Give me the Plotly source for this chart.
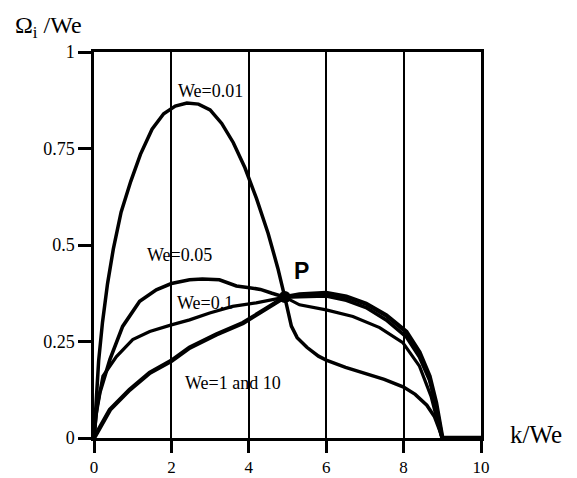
import plotly.graph_objects as go

# Growth-rate curves Omega_i/We versus k/We for several Weber numbers
k_001 = [0, 0.05, 0.12, 0.22, 0.35, 0.5, 0.7, 0.95, 1.2, 1.5, 1.8, 2.1, 2.4, 2.7, 3.0, 3.3, 3.6,
         3.9, 4.2, 4.5, 4.75, 4.93, 5.0, 5.1, 5.25, 5.5, 5.8, 6.0, 6.5, 7.0, 7.5, 8.0, 8.3, 8.6,
         8.8, 8.95, 9.0, 10]
w_001 = [0, 0.1, 0.2, 0.3, 0.4, 0.49, 0.585, 0.665, 0.735, 0.80, 0.84, 0.86, 0.868, 0.865, 0.85,
         0.815, 0.765, 0.70, 0.62, 0.53, 0.44, 0.365, 0.33, 0.29, 0.26, 0.235, 0.212, 0.202, 0.183,
         0.168, 0.152, 0.132, 0.113, 0.085, 0.055, 0.015, 0, 0]

k_005 = [0, 0.05, 0.15, 0.41, 0.74, 1.18, 1.61, 2.0, 2.47, 2.8, 3.24, 3.68, 3.97, 4.3, 4.6, 4.93,
         5.31, 6.0, 6.52, 7.03, 7.55, 8.07, 8.41, 8.67, 8.84, 8.97, 9.0, 10]
w_005 = [0, 0.06, 0.117, 0.203, 0.289, 0.354, 0.384, 0.40, 0.41, 0.412, 0.41, 0.394, 0.39, 0.385,
         0.375, 0.365, 0.366, 0.368, 0.357, 0.338, 0.306, 0.262, 0.21, 0.15, 0.085, 0.013, 0, 0]

k_01 = [0, 0.08, 0.23, 0.58, 1.0, 1.44, 2.0, 2.47, 2.99, 3.58, 4.19, 4.6, 4.93, 5.31, 6.0, 6.69,
        7.38, 7.98, 8.41, 8.71, 8.85, 8.96, 9.0, 10]
w_01 = [0, 0.08, 0.16, 0.211, 0.255, 0.276, 0.293, 0.306, 0.324, 0.341, 0.35, 0.358, 0.365, 0.345,
        0.332, 0.315, 0.286, 0.247, 0.186, 0.108, 0.05, 0.01, 0, 0]

k_1 = [0, 0.41, 0.92, 1.44, 2.0, 2.47, 3.16, 3.85, 4.45, 4.93, 5.31, 6.0, 6.52, 7.03, 7.55, 8.07,
       8.41, 8.67, 8.84, 8.97, 9.0, 10]
w_1 = [0, 0.073, 0.125, 0.169, 0.2, 0.234, 0.268, 0.298, 0.335, 0.365, 0.372, 0.376, 0.366, 0.348,
       0.318, 0.275, 0.222, 0.16, 0.091, 0.013, 0, 0]

p_k = [4.93]
p_w = [0.365]

x_ticks = [0, 2, 4, 6, 8, 10]
y_ticks = [0, 0.25, 0.5, 0.75, 1]
y_tick_text = ["0", "0.25", "0.5", "0.75", "1"]

curve_labels = ["We=0.01", "We=0.05", "We=0.1", "We=1 and 10"]
label_k = [3.0, 2.2, 2.86, 3.6]
label_w = [0.9, 0.475, 0.35, 0.142]

serif = "Liberation Serif, Times New Roman, serif"

fig = go.Figure()
for kk, ww, wd in [(k_001, w_001, 3.5), (k_005, w_005, 3.6), (k_01, w_01, 3.2), (k_1, w_1, 4.4)]:
    fig.add_trace(go.Scatter(x=kk, y=ww, mode="lines", line=dict(color="black", width=wd),
                             cliponaxis=False, showlegend=False, hoverinfo="skip"))

fig.add_trace(go.Scatter(x=p_k, y=p_w, mode="markers", marker=dict(color="black", size=12),
                         showlegend=False, hoverinfo="skip"))

for txt, kx, wy in zip(curve_labels, label_k, label_w):
    fig.add_annotation(x=kx, y=wy, xref="x", yref="y", text=txt, showarrow=False,
                       font=dict(family=serif, size=18, color="black"))

fig.add_annotation(x=p_k[0] + 0.42, y=p_w[0] + 0.068, xref="x", yref="y", text="<b>P</b>",
                   showarrow=False, font=dict(family="Liberation Sans, Arial, sans-serif",
                                              size=23, color="black"))

fig.add_annotation(x=-0.21, y=1.11, xref="paper", yref="paper", xanchor="left", yanchor="top",
                   text="Ω<sub>i</sub> /We", showarrow=False,
                   font=dict(family=serif, size=24, color="black"))
fig.add_annotation(x=1.142, y=0.01, xref="paper", yref="paper", xanchor="center",
                   yanchor="middle", text="k/We", showarrow=False,
                   font=dict(family=serif, size=25, color="black"))

fig.update_xaxes(range=[0, 10], tickvals=x_ticks, ticks="outside", ticklen=12, tickwidth=2.5,
                 tickcolor="black", showline=True, linecolor="black", linewidth=2.5, mirror=True,
                 showgrid=True, gridcolor="black", gridwidth=2, zeroline=False,
                 automargin=False, tickfont=dict(family=serif, size=17, color="black"))
fig.update_yaxes(range=[0, 1], tickvals=y_ticks, ticktext=y_tick_text, ticks="outside",
                 ticklen=13, tickwidth=2.5, tickcolor="black", showline=True, linecolor="black",
                 linewidth=2.5, mirror=True, showgrid=False, zeroline=False,
                 automargin=False, tickfont=dict(family=serif, size=18, color="black"))

fig.update_layout(width=577, height=478, margin=dict(l=94, r=96, t=52, b=40, autoexpand=False),
                  plot_bgcolor="white", paper_bgcolor="white")

fig.write_html("out.html")
